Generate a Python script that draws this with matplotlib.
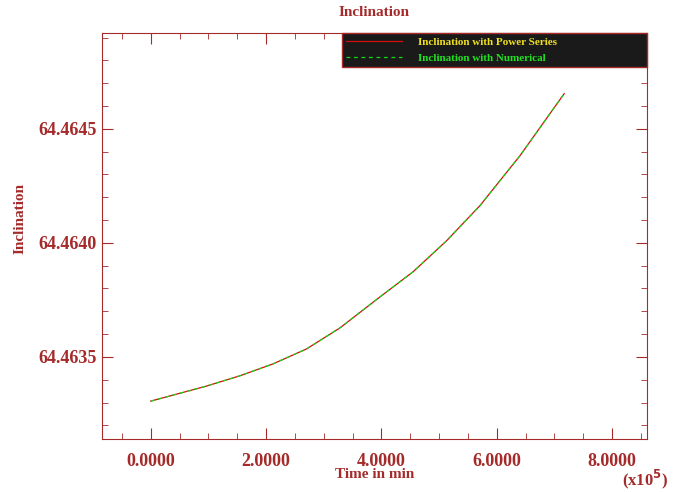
import matplotlib.pyplot as plt
from matplotlib.ticker import MultipleLocator, FormatStrFormatter

# time in units of 1e5 min
time = [0.0, 0.967, 1.545, 2.118, 2.703, 3.281, 3.976, 4.549, 5.134, 5.712, 6.406, 7.170]
incl_power = [64.463306, 64.463372, 64.463417, 64.463469, 64.463535, 64.463627,
              64.463763, 64.463873, 64.464010, 64.464164, 64.464383, 64.464654]
incl_numeric = list(incl_power)

brown = "#a52a2a"
plt.rcParams["font.family"] = ["Liberation Serif", "DejaVu Serif"]
plt.rcParams["font.weight"] = "bold"

W, H = 685, 492
fig = plt.figure(figsize=(6.85, 4.92), dpi=100)
ax = fig.add_axes([102 / W, 1 - 439 / H, 545 / W, 406 / H])

ax.plot(time, incl_power, color="#d01010", lw=0.9, label="Inclination with Power Series")
ax.plot(time, incl_numeric, color="#10dd10", lw=0.9, ls=(0, (3, 3)),
        label="Inclination with Numerical")

ax.set_xlim(-0.845, 8.606)
ax.set_ylim(64.46314, 64.46492)
ax.xaxis.set_major_locator(MultipleLocator(2))
ax.xaxis.set_minor_locator(MultipleLocator(0.5))
ax.yaxis.set_major_locator(MultipleLocator(0.0005))
ax.yaxis.set_minor_locator(MultipleLocator(0.0001))
ax.xaxis.set_major_formatter(FormatStrFormatter("%.4f"))
ax.yaxis.set_major_formatter(FormatStrFormatter("%.4f"))

for s in ax.spines.values():
    s.set_color(brown)
ax.tick_params(which="both", direction="in", colors=brown, labelsize=13,
               top=True, right=True)
ax.tick_params(which="major", length=8)
ax.tick_params(which="minor", length=4)
ax.tick_params(axis="x", which="major", pad=10)
ax.tick_params(axis="y", which="major", pad=4)
for lbl in ax.get_xticklabels() + ax.get_yticklabels():
    lbl.set_fontweight("bold")

fig.text(374.5 / W, 1 - 475 / H, "Time in min", color=brown, fontsize=11,
         fontweight="bold", ha="center", va="center")
fig.text(20 / W, 1 - 218 / H, "Inclination", color=brown, fontsize=11,
         fontweight="bold", ha="center", va="center", rotation=90)
fig.text(374 / W, 1 - 12 / H, "Inclination", color=brown, fontsize=11,
         fontweight="bold", ha="center", va="center")
fig.text(645 / W, 1 - 479 / H, r"(x10$^{5}$)", color=brown, fontsize=12,
         fontweight="bold", ha="center", va="center")

leg = ax.legend(loc="upper right", bbox_to_anchor=(0.44, 0.915, 0.56, 0.085),
                mode="expand", fontsize=8, frameon=True, fancybox=False,
                borderaxespad=0, handlelength=5, handletextpad=1.5,
                borderpad=0.4, labelspacing=0.5)
leg.get_frame().set_facecolor("#1a1a1a")
leg.get_frame().set_edgecolor(brown)
leg.get_frame().set_alpha(1)
leg.get_texts()[0].set_color("#f0e020")
leg.get_texts()[1].set_color("#20e020")
for t in leg.get_texts():
    t.set_fontweight("bold")

fig.savefig("out.png", dpi=100)
